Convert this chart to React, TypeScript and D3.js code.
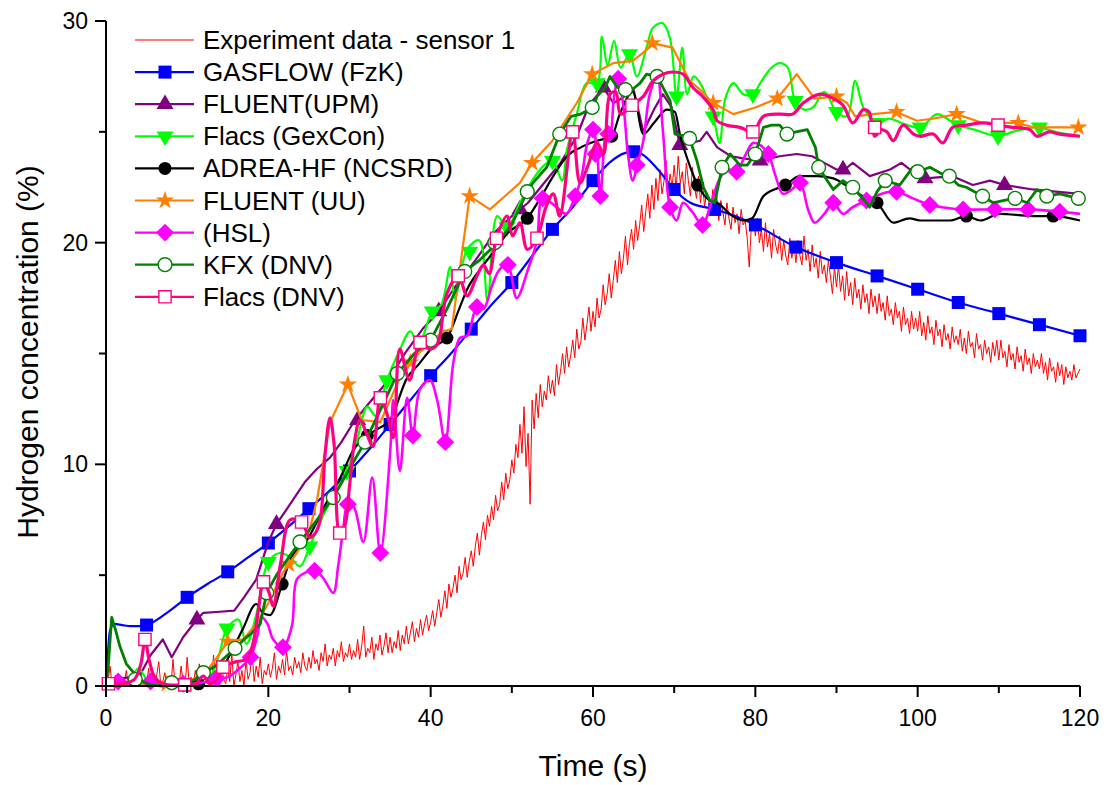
import React from "react";
import * as d3 from "d3";

// ---------- DATA ----------
const xTicksMajor = [0, 20, 40, 60, 80, 100, 120];
const xTicksMinor = [10, 30, 50, 70, 90, 110];
const yTicksMajor = [0, 10, 20, 30];
const yTicksMinor = [5, 15, 25];

// Experiment data - sensor 1, sampled every 0.25 s from 0 to 120 s (one row = 5 s)
const expStep = 0.25;
const expValues = [
  0, 0.2, 0.9, 0, 0.1, 0.5, 0, 0.3, 0, 0.1, 0.7, 0, 0.2, 0, 0.4, 0.1, 0, 0.6, 0.2, 0,
  0.1, 0.8, 0, 0.3, 0, 0.5, 1.1, 0, 0.2, 0.6, 0, 0.4, 0, 1.2, 0.1, 0.3, 0, 0.9, 0.2, 0,
  1.3, 0.1, 0.4, 0, 0.7, 0.2, 1.0, 0, 0.3, 0.8, 0.1, 0.5, 0, 1.4, 0.2, 0.6, 0, 0.9, 0.3, 0.1,
  0.8, 0.2, 1.5, 0, 0.5, 1.1, 0.2, 0.7, 0, 1.2, 0.3, 0.6, 1.6, 0.2, 0.9, 0.4, 1.3, 0.1, 0.7, 0.5,
  1.0, 0.4, 0.8, 1.5, 0.3, 0.9, 0.6, 1.2, 0.5, 1.6, 0.7, 0.9, 0.5, 1.3, 0.8, 1.1, 0.6, 1.5, 0.9, 0.7,
  1.3, 0.8, 1.6, 1.0, 1.2, 0.7, 1.5, 1.1, 1.9, 0.9, 1.4, 1.2, 1.7, 0.9, 1.6, 1.3, 2.0, 1.1, 1.5, 1.3,
  1.9, 1.2, 1.6, 1.3, 2.1, 1.2, 1.8, 2.7, 1.3, 1.7, 1.5, 2.2, 1.2, 1.9, 1.6, 2.3, 1.4, 1.8, 2.4, 1.5,
  2.2, 1.5, 2.0, 1.7, 2.5, 1.6, 2.3, 1.9, 2.7, 1.9, 2.4, 2.9, 2.0, 2.6, 2.2, 3.0, 2.3, 2.8, 3.2, 2.5,
  2.9, 3.4, 2.7, 3.3, 3.9, 3.1, 3.6, 4.3, 3.5, 4.6, 4.0, 4.4, 5.0, 4.2, 5.4, 4.8, 5.1, 5.8, 4.9, 5.6,
  6.1, 5.4, 6.3, 6.9, 5.9, 6.8, 7.4, 6.6, 7.7, 7.2, 8.1, 7.5, 8.6, 7.9, 8.2, 9.2, 8.4, 9.6, 8.9, 9.3,
  10.2, 9.6, 10.9, 10.3, 11.8, 10.5, 12.6, 9.9, 11.4, 8.2, 12.9, 11.6, 13.2, 12.1, 13.6, 12.6, 13.3, 12.9, 14.0, 13.2,
  13.8, 13.1, 14.5, 13.6, 14.2, 15.0, 14.1, 15.3, 14.4, 14.9, 15.6, 14.8, 16.1, 15.2, 15.5, 16.6, 15.6, 16.3, 17.1, 16.0,
  16.9, 16.2, 17.5, 16.6, 17.0, 18.1, 17.2, 17.7, 18.6, 17.5, 18.3, 19.2, 18.2, 19.6, 18.6, 19.3, 20.3, 19.0, 20.0, 20.6,
  19.7, 21.0, 20.1, 20.8, 21.7, 20.5, 21.4, 22.2, 21.1, 22.6, 21.5, 22.9, 21.9, 23.3, 22.2, 22.8, 23.7, 22.3, 23.1, 22.5,
  23.5, 22.4, 23.9, 22.7, 23.2, 22.2, 23.6, 22.8, 22.1, 23.4, 22.5, 22.0, 23.0, 21.8, 22.7, 21.6, 22.3, 21.9, 21.3, 22.4,
  21.5, 22.1, 21.0, 21.9, 21.4, 20.8, 21.8, 21.1, 20.6, 21.6, 20.9, 21.3, 20.4, 21.5, 20.8, 21.0, 20.2, 18.9, 20.7, 21.2,
  20.3, 21.1, 20.0, 20.6, 19.6, 20.9, 19.8, 20.4, 19.3, 20.6, 19.9, 19.5, 20.3, 19.2, 20.1, 19.4, 19.0, 20.2, 19.3, 19.9,
  19.1, 20.1, 19.4, 19.0, 20.3, 19.2, 19.7, 18.7, 19.9, 18.9, 19.3, 18.4, 19.6, 18.6, 19.0, 18.2, 19.2, 18.5, 17.7, 18.9,
  18.0, 19.0, 17.8, 18.5, 17.4, 18.7, 17.6, 18.2, 17.2, 18.4, 17.5, 17.9, 17.0, 18.1, 17.3, 17.7, 16.8, 17.9, 17.1, 17.6,
  16.8, 17.7, 16.9, 17.3, 16.5, 17.6, 16.7, 17.0, 16.3, 17.3, 16.6, 16.9, 16.0, 17.1, 16.3, 16.6, 15.9, 16.9, 16.1, 16.6,
  16.0, 16.9, 15.8, 16.4, 15.6, 16.7, 15.9, 16.2, 15.4, 16.5, 15.8, 16.1, 15.3, 16.3, 15.6, 15.9, 15.2, 16.2, 15.5, 15.8,
  15.4, 16.1, 15.1, 15.7, 15.0, 16.0, 15.3, 15.5, 14.8, 15.9, 15.2, 15.4, 14.7, 15.6, 15.0, 15.3, 14.6, 15.5, 14.9, 15.6,
  14.7, 15.6, 14.8, 15.1, 14.4, 15.4, 14.7, 15.0, 14.3, 15.3, 14.6, 14.9, 14.2, 15.2, 14.5, 14.8, 14.1, 15.0, 14.4, 14.7,
  14.3, 15.0, 14.1, 14.6, 13.8, 14.8, 14.2, 14.4, 13.7, 14.6, 14.0, 14.5, 13.6, 14.4, 13.9, 14.2, 13.8, 14.5, 13.9, 14.1,
  14.3,
];

const gasflowLine: [number, number][] = [
  [0, 0], [0.5, 2.5], [1, 2.8], [2, 2.75], [3, 2.7], [4, 2.7], [5, 2.75], [7.5, 3.3], [10, 4.0],
  [12.5, 4.6], [15, 5.15], [17.5, 5.8], [20, 6.45], [22.5, 7.2], [25, 8.0], [27.5, 8.8], [30, 9.7],
  [32.5, 10.7], [35, 11.8], [37.5, 12.9], [40, 14.0], [42.5, 15.0], [45, 16.1], [47.5, 17.2],
  [50, 18.2], [52.5, 19.4], [55, 20.6], [57.5, 21.6], [60, 22.8], [62, 23.6], [64, 24.05], [65, 24.1],
  [66, 24.0], [68, 23.3], [70, 22.4], [72, 21.8], [75, 21.5], [77.5, 21.2], [80, 20.8], [85, 19.8],
  [90, 19.1], [95, 18.5], [100, 17.9], [105, 17.3], [110, 16.8], [115, 16.3], [120, 15.8],
];
const gasflowMarks: [number, number][] = [
  [5, 2.75], [10, 4.0], [15, 5.15], [20, 6.45], [25, 8.0], [30, 9.7], [35, 11.8], [40, 14.0],
  [45, 16.1], [50, 18.2], [55, 20.6], [60, 22.8], [65, 24.1], [70, 22.4], [75, 21.5], [80, 20.8],
  [85, 19.8], [90, 19.1], [95, 18.5], [100, 17.9], [105, 17.3], [110, 16.8], [115, 16.3], [120, 15.8],
];

const upmLine: [number, number][] = [
  [0, 0], [1, 0.3], [3, 0.4], [4.2, 0.5], [5.5, 1.4], [7, 2.1], [8.1, 1.3], [9.5, 2.2], [11.2, 3.0],
  [12, 3.3], [14, 3.35], [15.8, 3.4], [17, 4.0], [18.5, 4.8], [20, 6.5], [21, 7.3], [22.5, 8.1],
  [24.5, 9.2], [26, 9.8], [27.6, 10.3], [29, 11.0], [30.5, 11.9], [32.5, 12.8], [34.6, 13.7],
  [37, 15.1], [39, 16.1], [41, 16.9], [43, 18.0], [45.5, 19.2], [48, 20.5], [50, 21.2], [52, 21.8],
  [54, 22.7], [56, 23.6], [58, 24.8], [59.5, 26.2], [61.3, 27.0], [62.5, 26.3], [63.5, 26.5],
  [65, 26.9], [66.2, 25.0], [67.5, 26.0], [68.6, 26.7], [69.7, 26.1], [70.7, 24.4], [72, 24.5],
  [73.2, 24.6], [74, 25.0], [75.3, 24.3], [77, 23.9], [78.5, 23.8], [80.6, 23.7], [83, 23.9],
  [85.1, 24.0], [87, 23.9], [88.5, 23.6], [90, 23.3], [91, 23.3], [92, 23.6], [94.1, 23.0],
  [96.6, 23.3], [98, 23.6], [99.4, 23.2], [101, 22.9], [104.3, 23.0], [106.8, 22.6], [108.9, 22.8],
  [110.7, 22.6], [114.2, 22.4], [117, 22.3], [120, 22.2],
];
const upmMarks: [number, number][] = [
  [11.2, 3.0], [21, 7.3], [31, 12.0], [41, 16.9], [51, 21.5], [61.3, 27.0], [70.7, 24.4],
  [80.6, 23.7], [90.8, 23.3], [100.9, 22.9], [110.7, 22.6],
];

const gexconLine: [number, number][] = [
  [0, 0], [2, 0.1], [3, 0.3], [4, 0.8], [5, 0.3], [6, 0.05], [10, 0], [12, 0.1], [13, 0.5], [14, 1.5],
  [14.9, 2.6], [16.3, 3.0], [17.3, 1.9], [18.5, 3.2], [20, 5.6], [21.4, 6.0], [22.7, 5.8], [23.9, 5.4],
  [25.1, 6.3], [26.5, 7.5], [28, 8.6], [29.7, 9.7], [31, 11.2], [32.2, 12.6], [33.2, 12.2],
  [34.6, 13.8], [36, 15.0], [37.5, 16.0], [38.5, 15.4], [40.2, 16.9], [41.3, 17.2], [42.4, 18.9],
  [43, 17.5], [44.5, 19.7], [46, 20.1], [47, 17.4], [48.2, 21.2], [49.4, 20.7], [51, 21.8],
  [52.5, 22.8], [54, 23.5], [55, 23.7], [56.2, 22.8], [56.8, 24.2], [58, 25.8], [59.2, 27.2],
  [60.5, 27.2], [61.1, 29.3], [61.8, 28.0], [62.6, 29.1], [63.4, 27.9], [64.5, 28.5], [65.4, 27.5],
  [66.6, 28.8], [67.4, 29.7], [68.6, 29.9], [69.5, 29.2], [70.3, 26.6], [71, 28.8], [71.6, 26.7],
  [72.4, 27.5], [73.2, 27.2], [74.8, 25.7], [75.6, 24.5], [76.3, 26.5], [77.3, 27.2], [78.5, 26.7],
  [79.7, 26.7], [80.6, 27.2], [82, 27.9], [83, 28.1], [84, 27.9], [84.9, 26.4], [86, 26.0],
  [87.1, 26.1], [88.5, 26.8], [90, 25.9], [91.3, 25.7], [92.3, 27.3], [93.3, 26.1], [95, 25.4],
  [96.5, 25.6], [98, 25.4], [100.3, 25.2], [102.4, 25.8], [104, 25.5], [105, 25.3], [107, 25.1],
  [109.9, 24.8], [111.7, 25.0], [114.2, 25.2], [115, 25.2], [117, 25.0], [120, 24.8],
];
const gexconMarks: [number, number][] = [
  [14.9, 2.6], [20, 5.6], [25.1, 6.3], [29.7, 9.7], [34.6, 13.8], [40.2, 16.9], [44.8, 19.6],
  [49.4, 20.7], [55, 23.7], [60.5, 27.2], [64.5, 28.5], [70.3, 26.6], [74.8, 25.7], [79.7, 26.7],
  [84.9, 26.4], [90, 25.9], [95, 25.4], [100.3, 25.2], [105, 25.3], [109.9, 24.8], [115, 25.2],
];

const adreaLine: [number, number][] = [
  [0, 0], [5, 0], [10, 0.05], [11.4, 0.1], [13, 0.3], [14.5, 0.9], [15.8, 1.8], [16.9, 2.6],
  [18.5, 3.7], [19.3, 3.3], [20.2, 3.2], [21.7, 4.6], [22.7, 5.7], [24.8, 6.6], [27.2, 8.3],
  [29, 9.5], [30.4, 10.6], [32.2, 11.3], [33.5, 11.6], [35, 12.0], [37.1, 13.9], [38.5, 14.5],
  [40.3, 15.3], [42, 15.7], [43.5, 17.0], [44.5, 17.9], [46.1, 18.8], [48, 19.7], [49.4, 20.4],
  [51.9, 21.1], [53.5, 22.0], [55.1, 23.0], [56.8, 23.9], [58.5, 24.3], [60.5, 24.6], [62.3, 24.8],
  [63.3, 25.8], [64.9, 26.8], [66.2, 24.9], [67.5, 25.4], [69.1, 26.0], [70.1, 25.9], [70.7, 24.9],
  [71.7, 23.7], [72.9, 22.6], [74.4, 21.9], [75.3, 21.8], [77.2, 21.2], [78.5, 21.0], [79.6, 21.1],
  [81, 22.1], [83.7, 22.6], [85.5, 23.0], [87.6, 23.0], [89.6, 22.9], [91.5, 22.5], [93.7, 22.0],
  [95, 21.8], [97, 20.9], [99, 21.1], [100.3, 21.0], [104, 21.0], [106, 21.2], [107.7, 21.0],
  [110.1, 21.3], [114.2, 21.2], [116.7, 21.2], [120, 21.0],
];
const adreaMarks: [number, number][] = [
  [11.4, 0.1], [21.7, 4.6], [32.2, 11.3], [42, 15.7], [51.9, 21.1], [62.3, 24.8], [72.9, 22.6],
  [83.7, 22.6], [95, 21.8], [106, 21.2], [116.7, 21.2],
];

const uuLine: [number, number][] = [
  [0, 0], [5, 0.1], [8, 0.1], [10, 0.2], [12, 0.5], [13.5, 1.2], [15, 2.0], [16.9, 2.1], [18.5, 2.8],
  [19.8, 3.6], [21.8, 5.1], [23.5, 6.0], [25, 6.9], [26, 8.4], [27.6, 11.9], [29.8, 13.6],
  [31.5, 12.0], [33.8, 11.9], [36.2, 13.9], [38.5, 15.0], [41.5, 16.0], [42.6, 16.1], [44.8, 22.1],
  [47.3, 21.5], [51, 22.7], [52.5, 23.6], [55, 24.6], [58, 26.3], [59.9, 27.6], [62.5, 28.1],
  [64.9, 28.2], [66.6, 28.7], [67.3, 29.0], [69.8, 28.8], [71.9, 27.3], [73.2, 26.9], [74.8, 26.3],
  [77.3, 25.8], [80, 26.1], [82.7, 26.5], [85.1, 27.6], [87.3, 26.5], [90, 26.6], [91.3, 26.3],
  [92.3, 25.7], [94.5, 25.8], [97.4, 25.9], [99.9, 25.5], [102, 25.6], [104.8, 25.8], [108, 25.4],
  [112.4, 25.4], [114.2, 25.2], [120, 25.2],
];
const uuMarks: [number, number][] = [
  [7.5, 0.1], [15, 2.0], [22.5, 5.5], [29.8, 13.6], [37.5, 14.6], [44.8, 22.1], [52.5, 23.6],
  [59.9, 27.6], [67.3, 29.0], [74.8, 26.3], [82.7, 26.5], [90, 26.6], [97.4, 25.9], [104.8, 25.8],
  [112.4, 25.4], [119.8, 25.2],
];

const hslLine: [number, number][] = [
  [0, 0], [1.5, 0.2], [3, 0.1], [5, 0.2], [7, 0.1], [9, 0.1], [11, 0.1], [12.5, 0.2], [13.6, 0.35],
  [15, 0.4], [16.5, 0.8], [17.8, 1.3], [18.6, 2.2], [19.2, 3.1], [19.9, 2.8], [20.6, 2.1],
  [21.8, 1.75], [22.9, 2.7], [23.5, 4.8], [24.5, 5.1], [25.7, 5.2], [26.7, 4.9], [28, 4.2],
  [28.6, 5.4], [29.2, 7.0], [29.8, 8.2], [30.5, 8.1], [31.7, 6.5], [32.8, 9.4], [33.8, 6.0],
  [35, 10.5], [35.4, 12.9], [36.2, 9.7], [37.1, 13.0], [37.8, 11.3], [38.7, 13.4], [39.9, 13.8],
  [40.8, 12.9], [41.8, 11.0], [42.8, 14.6], [43.6, 15.7], [44.5, 15.8], [45.7, 17.1], [46.5, 17.0],
  [47.5, 18.0], [48.5, 18.8], [49.5, 19.0], [50.6, 17.5], [52, 18.8], [53.1, 20.1], [53.8, 22.0],
  [55.5, 21.6], [56.7, 21.3], [57.8, 22.1], [58.6, 23.0], [59.3, 24.5], [60, 25.1], [60.5, 24.1],
  [60.9, 22.1], [61.7, 25.1], [62.1, 24.9], [62.6, 26.6], [63.1, 27.4], [63.8, 26.0], [64.3, 24.0],
  [64.9, 22.8], [65.5, 23.6], [66.2, 24.6], [67, 26.7], [67.9, 27.5], [68.6, 25.1], [69.5, 21.6],
  [70.3, 21.0], [71.1, 21.8], [72.2, 21.4], [73.5, 20.8], [74.4, 21.6], [75.5, 22.8], [76.5, 23.3],
  [77.7, 23.2], [78.7, 23.9], [79.7, 24.5], [80.6, 24.4], [81.6, 24.0], [82.5, 23.0], [83.4, 22.2],
  [84.5, 22.4], [85.5, 22.7], [86.5, 21.5], [87.3, 20.9], [88.5, 21.3], [89.6, 21.8], [90.8, 21.3],
  [92, 21.6], [93.7, 21.9], [95.5, 22.2], [97.4, 22.3], [99.4, 22.0], [101.5, 21.7], [103, 21.6],
  [105.6, 21.5], [109.5, 21.5], [113.6, 21.5], [117.5, 21.4], [120, 21.3],
];
const hslMarks: [number, number][] = [
  [1.5, 0.2], [5.5, 0.2], [9.5, 0.1], [13.6, 0.35], [17.8, 1.3], [21.8, 1.75], [25.7, 5.2],
  [29.8, 8.2], [33.8, 6.0], [37.8, 11.3], [41.8, 11.0], [45.7, 17.1], [49.5, 19.0], [53.8, 22.0],
  [57.8, 22.1], [60, 25.1], [60.3, 24.0], [60.9, 22.1], [61.9, 24.9], [63.1, 27.4], [65.4, 23.5],
  [69.5, 21.6], [73.5, 20.8], [77.7, 23.2], [81.6, 24.0], [85.5, 22.7], [89.6, 21.8], [93.7, 21.9],
  [97.4, 22.3], [101.5, 21.7], [105.6, 21.5], [109.5, 21.5], [113.6, 21.5], [117.5, 21.4],
];

const kfxLine: [number, number][] = [
  [0, 0], [0.3, 1.0], [0.7, 3.1], [1.2, 2.5], [1.7, 1.8], [2.5, 1.0], [3.4, 0.6], [4.5, 0.2],
  [5.5, 0.05], [7, 0], [8.1, 0.15], [10, 0.1], [11, 0.3], [12, 0.6], [13.5, 0.9], [15, 1.4],
  [15.9, 1.7], [17, 2.1], [18, 2.4], [19, 2.8], [19.8, 4.2], [21, 5.0], [22.5, 5.8], [23.9, 6.5],
  [26, 7.5], [28, 8.5], [30, 9.8], [31.9, 11.0], [34, 12.6], [35.9, 14.1], [38, 15.0], [40, 15.6],
  [42, 17.0], [44.2, 18.7], [46, 19.2], [48.5, 20.1], [50.1, 20.9], [51.9, 22.3], [52.6, 22.7],
  [54.3, 23.4], [55.9, 24.9], [57.3, 25.7], [58.5, 25.8], [60, 26.1], [60.5, 26.6], [61.5, 27.0],
  [62.1, 27.5], [63, 27.0], [63.9, 26.9], [64.8, 26.9], [65.8, 27.2], [66.6, 27.6], [67.9, 27.5],
  [69.5, 26.4], [70.1, 24.9], [71.6, 24.8], [71.9, 24.7], [72.8, 23.7], [73.6, 22.5], [74.4, 21.9],
  [75, 21.8], [75.9, 23.4], [76.9, 24.0], [78.1, 23.5], [79, 23.5], [80, 24.0], [81, 25.2],
  [82, 25.3], [83, 25.3], [83.9, 24.9], [85, 25.0], [86.4, 25.1], [87.4, 24.3], [87.8, 23.4],
  [88.5, 23.0], [89.6, 22.4], [90.8, 22.8], [92, 22.5], [93.7, 21.8], [94.1, 21.6], [95, 22.3],
  [96, 22.8], [97.8, 22.6], [99.4, 23.4], [100, 23.2], [101.5, 23.4], [103, 23.1], [103.9, 23.0],
  [105, 22.6], [106, 22.5], [107, 22.3], [108, 22.1], [109.3, 21.8], [110.5, 21.9], [112, 22.0],
  [113.5, 21.8], [114.7, 22.4], [115.9, 22.1], [117.5, 22.2], [119.8, 22.0], [120, 22.0],
];
const kfxMarks: [number, number][] = [
  [3.6, 0.3], [8.1, 0.15], [12, 0.6], [15.9, 1.7], [19.8, 4.2], [23.9, 6.5], [28, 8.5], [31.9, 11.0],
  [35.9, 14.1], [40, 15.6], [44.2, 18.7], [47.9, 20.0], [51.9, 22.3], [55.9, 24.9], [59.9, 26.1],
  [64, 26.9], [67.9, 27.5], [71.9, 24.7], [75.9, 23.4], [80, 24.0], [83.9, 24.9], [87.8, 23.4],
  [92, 22.5], [96, 22.8], [100, 23.2], [103.9, 23.0], [108, 22.1], [112, 22.0], [115.9, 22.1],
  [119.8, 22.0],
];

const dnvLine: [number, number][] = [
  [0, 0], [0.3, 0.1], [2, 0.1], [3.5, 0.3], [4.3, 1.0], [4.8, 2.1], [5.3, 1.2], [6, 0.4], [7, 0.1],
  [9.7, 0.05], [11, 0.1], [12, 0.45], [12.8, 0.1], [13.6, 0.3], [14.4, 0.85], [16.1, 1.1],
  [17.3, 1.2], [18.1, 1.9], [18.8, 3.5], [19.4, 4.7], [20.1, 4.2], [20.6, 3.6], [21.5, 5.5],
  [22.7, 7.5], [24.1, 7.4], [25.1, 6.7], [25.8, 6.9], [26.4, 7.5], [27, 10.5], [27.6, 12.1],
  [28.1, 10.9], [28.8, 6.9], [29.4, 7.2], [30, 9.0], [30.6, 11.0], [31.3, 12.0], [32.1, 11.4],
  [32.9, 10.8], [33.8, 13.0], [34.6, 12.3], [35.4, 11.2], [36.2, 15.2], [37.4, 13.8], [38.7, 15.5],
  [39.9, 15.2], [40.8, 15.4], [42, 17.7], [43.4, 18.5], [44.5, 17.6], [45.7, 18.5], [46.5, 19.0],
  [47.2, 18.6], [48.1, 20.2], [49.4, 21.2], [50.1, 20.3], [51, 20.9], [51.9, 19.7], [53.1, 20.2],
  [54.2, 21.6], [55.1, 22.2], [55.9, 21.2], [57.5, 25.0], [58.4, 22.7], [59.3, 23.4], [60.5, 24.5],
  [61.3, 24.0], [62.1, 26.7], [62.8, 26.8], [63.4, 25.8], [64.8, 26.2], [66.2, 26.6], [67.4, 27.3],
  [68.6, 27.6], [69.9, 27.7], [71.1, 27.6], [72.3, 27.0], [73.5, 26.6], [74.8, 26.0], [75.3, 25.5],
  [76.5, 25.3], [78.1, 25.2], [79.7, 25.0], [81, 25.7], [83, 25.8], [84.6, 25.8], [85.9, 26.3],
  [88, 26.7], [89.6, 26.5], [90.8, 26.2], [92, 25.4], [93.3, 26.0], [94, 25.9], [94.7, 24.8],
  [95.5, 25.1], [96.2, 25.0], [97, 24.6], [98.2, 25.3], [99.5, 24.9], [100.3, 24.8], [101.9, 24.9],
  [103.1, 24.5], [104.3, 25.2], [106, 25.3], [108, 25.4], [109.9, 25.3], [111.7, 25.2],
  [113.8, 25.1], [114.7, 24.8], [116.2, 25.0], [117.5, 24.9], [120, 24.8],
];
const dnvMarks: [number, number][] = [
  [0.3, 0.1], [4.8, 2.1], [9.7, 0.05], [14.4, 0.85], [19.4, 4.7], [24.1, 7.4], [28.8, 6.9],
  [33.8, 13.0], [38.7, 15.5], [43.4, 18.5], [48.1, 20.2], [53.1, 20.2], [57.5, 25.0], [64.8, 26.2],
  [79.7, 25.0], [94.7, 25.2], [109.9, 25.3],
];

const legendLabels = [
  "Experiment data - sensor 1",
  "GASFLOW (FzK)",
  "FLUENT(UPM)",
  "Flacs (GexCon)",
  "ADREA-HF (NCSRD)",
  "FLUENT (UU)",
  "(HSL)",
  "KFX (DNV)",
  "Flacs (DNV)",
];

// ---------- LAYOUT / STYLE ----------
const W = 1106;
const H = 785;
const FONT = "'Liberation Sans', Arial, Helvetica, sans-serif";
const x = d3.scaleLinear().domain([0, 120]).range([106, 1080]);
const y = d3.scaleLinear().domain([0, 30]).range([686, 21]);

type Marker = "square" | "triUp" | "triDown" | "circle" | "star" | "diamond" | "ocircle" | "osquare";

interface Series {
  label: string;
  line: [number, number][];
  marks: [number, number][];
  color: string;
  width: number;
  curve: d3.CurveFactory;
  marker: Marker;
}

const series: Series[] = [
  { label: legendLabels[1], line: gasflowLine, marks: gasflowMarks, color: "#0000FF", width: 2.2, curve: d3.curveMonotoneX, marker: "square" },
  { label: legendLabels[2], line: upmLine, marks: upmMarks, color: "#800080", width: 2.2, curve: d3.curveLinear, marker: "triUp" },
  { label: legendLabels[3], line: gexconLine, marks: gexconMarks, color: "#00FF00", width: 2.2, curve: d3.curveCatmullRom, marker: "triDown" },
  { label: legendLabels[4], line: adreaLine, marks: adreaMarks, color: "#000000", width: 2.2, curve: d3.curveMonotoneX, marker: "circle" },
  { label: legendLabels[5], line: uuLine, marks: uuMarks, color: "#FF8000", width: 2.2, curve: d3.curveLinear, marker: "star" },
  { label: legendLabels[6], line: hslLine, marks: hslMarks, color: "#FF00FF", width: 2.6, curve: d3.curveCatmullRom, marker: "diamond" },
  { label: legendLabels[7], line: kfxLine, marks: kfxMarks, color: "#008000", width: 2.8, curve: d3.curveLinear, marker: "ocircle" },
  { label: legendLabels[8], line: dnvLine, marks: dnvMarks, color: "#FF0080", width: 3.2, curve: d3.curveCatmullRom, marker: "osquare" },
];

function markerEl(kind: Marker, color: string, cx: number, cy: number, key: string | number) {
  const sym = d3.symbol();
  switch (kind) {
    case "square":
      return <path key={key} d={sym.type(d3.symbolSquare).size(169)()!} transform={`translate(${cx},${cy})`} fill={color} />;
    case "triUp":
      return <path key={key} d={sym.type(d3.symbolTriangle).size(125)()!} transform={`translate(${cx},${cy})`} fill={color} />;
    case "triDown":
      return <path key={key} d={sym.type(d3.symbolTriangle).size(125)()!} transform={`translate(${cx},${cy}) rotate(180)`} fill={color} />;
    case "circle":
      return <path key={key} d={sym.type(d3.symbolCircle).size(133)()!} transform={`translate(${cx},${cy})`} fill={color} />;
    case "star":
      return <path key={key} d={sym.type(d3.symbolStar).size(105)()!} transform={`translate(${cx},${cy})`} fill={color} />;
    case "diamond":
      return <path key={key} d={sym.type(d3.symbolSquare).size(160)()!} transform={`translate(${cx},${cy}) rotate(45)`} fill={color} />;
    case "ocircle":
      return <path key={key} d={sym.type(d3.symbolCircle).size(150)()!} transform={`translate(${cx},${cy})`} fill="#fff" stroke={color} strokeWidth={1.4} />;
    case "osquare":
      return <path key={key} d={sym.type(d3.symbolSquare).size(150)()!} transform={`translate(${cx},${cy})`} fill="#fff" stroke={color} strokeWidth={1.4} />;
  }
}

export default function App() {
  const expLine = d3
    .line<number>()
    .x((_, i) => x(i * expStep))
    .y((v) => y(v));

  const legendX0 = 135;
  const legendX1 = 194;
  const legendMid = 165;
  const legendTextX = 203;
  const legendY0 = 40;
  const legendDy = 32.1;

  return (
    <svg width={W} height={H} style={{ position: "absolute", left: 0, top: 0, background: "#fff" }} fontFamily={FONT}>
      <rect width={W} height={H} fill="#fff" />
      {/* experiment */}
      <path d={expLine(expValues)!} fill="none" stroke="#FF0000" strokeWidth={1} strokeLinejoin="miter" />
      {/* model series */}
      {series.map((s, si) => {
        const gen = d3
          .line<[number, number]>()
          .x((d) => x(d[0]))
          .y((d) => y(Math.max(0, d[1])))
          .curve(s.curve);
        return (
          <g key={si}>
            <path d={gen(s.line)!} fill="none" stroke={s.color} strokeWidth={s.width} strokeLinejoin="round" />
            {s.marks.map((m, mi) => markerEl(s.marker, s.color, x(m[0]), y(m[1]), mi))}
          </g>
        );
      })}

      {/* axes */}
      <line x1={x(0)} x2={x(120)} y1={y(0)} y2={y(0)} stroke="#000" strokeWidth={2} />
      <line x1={x(0)} x2={x(0)} y1={y(0)} y2={y(30)} stroke="#000" strokeWidth={2} />
      {xTicksMajor.map((t) => (
        <g key={"xm" + t}>
          <line x1={x(t)} x2={x(t)} y1={y(0)} y2={y(0) + 11} stroke="#000" strokeWidth={2} />
          <text x={x(t)} y={726} textAnchor="middle" fontSize={23} fill="#000">
            {t}
          </text>
        </g>
      ))}
      {xTicksMinor.map((t) => (
        <line key={"xn" + t} x1={x(t)} x2={x(t)} y1={y(0)} y2={y(0) + 7} stroke="#000" strokeWidth={2} />
      ))}
      {yTicksMajor.map((t) => (
        <g key={"ym" + t}>
          <line x1={x(0) - 11} x2={x(0)} y1={y(t)} y2={y(t)} stroke="#000" strokeWidth={2} />
          <text x={88} y={y(t) + 8} textAnchor="end" fontSize={23} fill="#000">
            {t}
          </text>
        </g>
      ))}
      {yTicksMinor.map((t) => (
        <line key={"yn" + t} x1={x(0) - 7} x2={x(0)} y1={y(t)} y2={y(t)} stroke="#000" strokeWidth={2} />
      ))}

      {/* axis titles */}
      <text x={593} y={776} textAnchor="middle" fontSize={30} fill="#000">
        Time (s)
      </text>
      <text transform={`translate(38,352) rotate(-90)`} textAnchor="middle" fontSize={30} fill="#000">
        Hydrogen concentration (%)
      </text>

      {/* legend */}
      <g>
        <line x1={legendX0} x2={legendX1} y1={legendY0} y2={legendY0} stroke="#FF0000" strokeWidth={1} />
        <text x={legendTextX} y={legendY0 + 9} fontSize={26} fill="#000">
          {legendLabels[0]}
        </text>
        {series.map((s, i) => {
          const ly = legendY0 + legendDy * (i + 1);
          return (
            <g key={"lg" + i}>
              <line x1={legendX0} x2={legendX1} y1={ly} y2={ly} stroke={s.color} strokeWidth={2.2} />
              {markerEl(s.marker, s.color, legendMid, ly, "m")}
              <text x={legendTextX} y={ly + 9} fontSize={26} fill="#000">
                {s.label}
              </text>
            </g>
          );
        })}
      </g>
    </svg>
  );
}
